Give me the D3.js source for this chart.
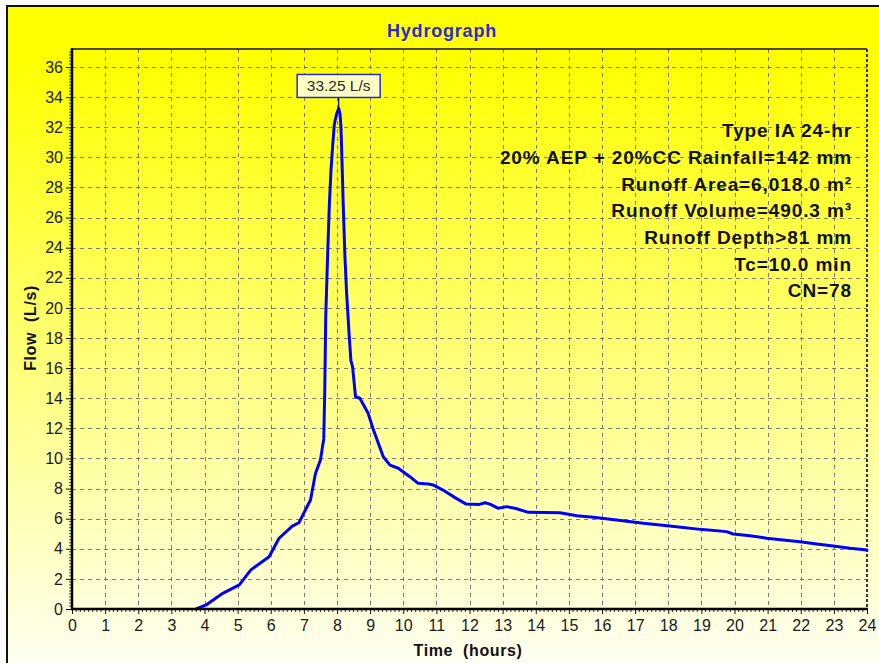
<!DOCTYPE html>
<html>
<head>
<meta charset="utf-8">
<script src="https://cdn.jsdelivr.net/npm/d3@7"></script>
<style>
  html, body { margin: 0; padding: 0; background: #ffffff; }
  svg { display: block; }
  text { font-family: "Liberation Sans", Arial, sans-serif; white-space: pre; }
</style>
</head>
<body>
<svg id="chart" width="879" height="663"></svg>
<script>
// Hydrograph time series: time (hours) and flow (L/s)
const timeHours = [
  3.75, 4.05, 4.55, 5.05, 5.4, 5.95, 6.25, 6.65, 6.85, 7.2, 7.35, 7.5, 7.6, 7.63,
  7.66, 7.72, 7.77, 7.82, 7.87, 7.92, 7.99, 8.05, 8.09, 8.12, 8.14, 8.19, 8.24,
  8.29, 8.37, 8.42, 8.47, 8.56, 8.69, 8.94, 9.1, 9.4, 9.6, 9.85, 10.2, 10.45,
  10.76, 10.9, 11.2, 11.6, 11.9, 12.3, 12.47, 12.62, 12.87, 13.12, 13.37, 13.78,
  14.73, 15.24, 15.74, 16.44, 17.25, 17.75, 18.25, 18.96, 19.76, 19.96, 20.47,
  20.97, 21.47, 21.98, 22.48, 22.98, 23.49, 24.0
];
const flowLps = [
  0.0, 0.27, 1.04, 1.6, 2.6, 3.47, 4.7, 5.5, 5.73, 7.24, 9.0, 9.9, 11.3, 14.4,
  19.4, 23.7, 26.9, 29.2, 30.8, 32.2, 32.9, 33.25, 32.9, 32.0, 30.6, 26.7, 23.4,
  21.0, 18.1, 16.5, 16.1, 14.1, 14.0, 13.0, 11.9, 10.1, 9.56, 9.35, 8.79, 8.35,
  8.3, 8.24, 7.9, 7.35, 6.97, 6.95, 7.06, 6.97, 6.69, 6.8, 6.69, 6.42,
  6.4, 6.2, 6.09, 5.91, 5.69, 5.58, 5.47, 5.29, 5.14, 4.98, 4.87,
  4.7, 4.58, 4.47, 4.32, 4.18, 4.03, 3.92
];

// Peak annotation
const peakTime = 8.05;
const peakFlow = 33.25;
const peakLabel = "33.25 L/s";

// Axis ticks
const xTickValues = d3.range(0, 25, 1);
const yTickValues = d3.range(0, 37, 2);

// Storm / catchment summary lines
const summaryLines = [
  "Type IA 24-hr",
  "20% AEP + 20%CC Rainfall=142 mm",
  "Runoff Area=6,018.0 m²",
  "Runoff Volume=490.3 m³",
  "Runoff Depth>81 mm",
  "Tc=10.0 min",
  "CN=78"
];

const chartTitle = "Hydrograph";
const xTitle = "Time  (hours)";
const yTitle = "Flow  (L/s)";

// ---- layout ----
const W = 879, H = 663;
const plot = { left: 72, top: 49, right: 867, bottom: 609 };

const svg = d3.select("#chart");

// background gradient shared by panel and plot
const defs = svg.append("defs");
const grad = defs.append("linearGradient")
  .attr("id", "bg")
  .attr("gradientUnits", "userSpaceOnUse")
  .attr("x1", 0).attr("y1", 6).attr("x2", 0).attr("y2", H);
grad.append("stop").attr("offset", 0).attr("stop-color", "#ffff00");
grad.append("stop").attr("offset", 0.08).attr("stop-color", "#ffff00");
grad.append("stop").attr("offset", 1).attr("stop-color", "#fffff2");

// outer panel
svg.append("rect")
  .attr("x", 7).attr("y", 6)
  .attr("width", W + 20).attr("height", H + 20)
  .attr("fill", "url(#bg)")
  .attr("stroke", "#111").attr("stroke-width", 2);

const x = d3.scaleLinear().domain([0, 24]).range([plot.left, plot.right]);
const y = d3.scaleLinear().domain([0, 37.2]).range([plot.bottom, plot.top]);

// grid
const grid = svg.append("g").attr("stroke", "#7a7a7a").attr("stroke-width", 1)
  .attr("stroke-dasharray", "4,4");
grid.selectAll("line.h").data(yTickValues.filter(v => v > 0)).join("line")
  .attr("class", "h")
  .attr("x1", plot.left).attr("x2", plot.right)
  .attr("y1", d => Math.round(y(d)) + 0.5).attr("y2", d => Math.round(y(d)) + 0.5);
grid.selectAll("line.v").data(xTickValues.filter(v => v > 0 && v < 24)).join("line")
  .attr("class", "v")
  .attr("y1", plot.top).attr("y2", plot.bottom)
  .attr("x1", d => Math.round(x(d)) + 0.5).attr("x2", d => Math.round(x(d)) + 0.5);

// plot frame: solid top, dashed right
svg.append("line")
  .attr("x1", plot.left).attr("x2", plot.right)
  .attr("y1", plot.top).attr("y2", plot.top)
  .attr("stroke", "#111").attr("stroke-width", 1.5);
svg.append("line")
  .attr("x1", plot.right).attr("x2", plot.right)
  .attr("y1", plot.top).attr("y2", plot.bottom)
  .attr("stroke", "#222").attr("stroke-width", 1.8)
  .attr("stroke-dasharray", "3,2");

// x axis
const xAxis = d3.axisBottom(x)
  .tickValues(xTickValues)
  .tickFormat(d3.format("d"))
  .tickSize(5).tickPadding(6);
const gx = svg.append("g")
  .attr("transform", `translate(0,${plot.bottom})`)
  .call(xAxis);
gx.select(".domain").remove();
gx.selectAll(".tick line").attr("stroke", "#111").attr("stroke-width", 1);
gx.selectAll(".tick text")
  .attr("font-size", 16).attr("fill", "#1a1a1a")
  .attr("font-family", "'Liberation Sans', Arial, sans-serif");

// x minor ticks
const xMinor = d3.range(0, 24.001, 0.125).filter(v => Math.abs(v - Math.round(v)) > 1e-6);
svg.append("g").selectAll("line").data(xMinor).join("line")
  .attr("x1", d => x(d)).attr("x2", d => x(d))
  .attr("y1", plot.bottom).attr("y2", plot.bottom + 3)
  .attr("stroke", "#333").attr("stroke-width", 1);

// y axis
const yAxis = d3.axisLeft(y)
  .tickValues(yTickValues)
  .tickFormat(d3.format("d"))
  .tickSize(6).tickPadding(3);
const gy = svg.append("g")
  .attr("transform", `translate(${plot.left},0)`)
  .call(yAxis);
gy.select(".domain").remove();
gy.selectAll(".tick line").attr("stroke", "#111").attr("stroke-width", 1);
gy.selectAll(".tick text")
  .attr("font-size", 16).attr("fill", "#1a1a1a")
  .attr("font-family", "'Liberation Sans', Arial, sans-serif");

// y minor ticks
const yMinor = d3.range(0, 37.2, 0.2).filter(v => Math.abs(v / 2 - Math.round(v / 2)) > 1e-6);
svg.append("g").selectAll("line").data(yMinor).join("line")
  .attr("x1", plot.left - 3).attr("x2", plot.left)
  .attr("y1", d => y(d)).attr("y2", d => y(d))
  .attr("stroke", "#444").attr("stroke-width", 1);

// hydrograph line
const series = timeHours.map((t, i) => ({ t, q: flowLps[i] }));
const line = d3.line().x(d => x(d.t)).y(d => y(d.q)).curve(d3.curveLinear);
svg.append("path")
  .datum(series)
  .attr("d", line)
  .attr("fill", "none")
  .attr("stroke", "#0000ff")
  .attr("stroke-width", 3)
  .attr("stroke-linejoin", "round")
  .attr("stroke-linecap", "round");

// axis lines on top of the curve
svg.append("line")
  .attr("x1", plot.left).attr("x2", plot.left)
  .attr("y1", plot.top - 1).attr("y2", plot.bottom + 1)
  .attr("stroke", "#000").attr("stroke-width", 2.5);
svg.append("line")
  .attr("x1", plot.left - 1).attr("x2", plot.right + 1)
  .attr("y1", plot.bottom).attr("y2", plot.bottom)
  .attr("stroke", "#000").attr("stroke-width", 2.5);

// peak callout
const px = x(peakTime), py = y(peakFlow);
const boxW = 83, boxH = 23, boxBottom = py - 11;
svg.append("line")
  .attr("x1", px).attr("x2", px)
  .attr("y1", boxBottom).attr("y2", py)
  .attr("stroke", "#000").attr("stroke-width", 1.2);
svg.append("rect")
  .attr("x", px - boxW / 2).attr("y", boxBottom - boxH)
  .attr("width", boxW).attr("height", boxH)
  .attr("fill", "#ffffc4")
  .attr("stroke", "#2a2ad8").attr("stroke-width", 1.5);
svg.append("text")
  .attr("x", px).attr("y", boxBottom - 6)
  .attr("text-anchor", "middle")
  .attr("font-size", 15.5).attr("fill", "#2a2a2a")
  .text(peakLabel);

// summary text block
svg.append("g").selectAll("text").data(summaryLines).join("text")
  .attr("x", 852)
  .attr("y", (d, i) => 137.3 + i * 26.67)
  .attr("text-anchor", "end")
  .attr("font-size", 19).attr("font-weight", "bold")
  .attr("letter-spacing", 0.9)
  .attr("fill", "#111")
  .text(d => d);

// title
svg.append("text")
  .attr("x", 442).attr("y", 37)
  .attr("text-anchor", "middle")
  .attr("font-size", 18).attr("font-weight", "bold")
  .attr("letter-spacing", 0.8)
  .attr("fill", "#2b2bd0")
  .text(chartTitle);

// axis titles
svg.append("text")
  .attr("x", 468).attr("y", 656)
  .attr("text-anchor", "middle")
  .attr("font-size", 16).attr("font-weight", "bold")
  .attr("letter-spacing", 0.6)
  .attr("fill", "#111")
  .text(xTitle);
svg.append("text")
  .attr("transform", "translate(36,328) rotate(-90)")
  .attr("text-anchor", "middle")
  .attr("font-size", 16).attr("font-weight", "bold")
  .attr("letter-spacing", 0.6)
  .attr("fill", "#111")
  .text(yTitle);
</script>
</body>
</html>
